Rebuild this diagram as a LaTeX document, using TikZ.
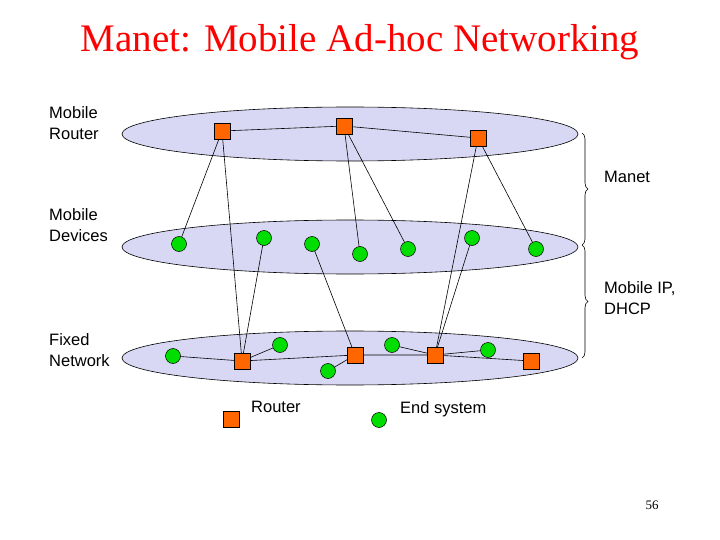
\documentclass[tikz,border=0pt]{standalone}
\usepackage{fontspec}
\setmainfont{Liberation Serif}
\newfontfamily\lsans{Liberation Sans}
\usetikzlibrary{decorations.pathreplacing}
\definecolor{rt}{HTML}{FF6600}
\definecolor{es}{HTML}{00DD00}
\definecolor{pl}{HTML}{D8D8F4}
\begin{document}
\begin{tikzpicture}[x=1pt,y=-1pt,
 rtr/.style={draw=black,fill=rt,minimum size=16pt,inner sep=0pt,line width=0.5pt},
 dev/.style={draw=black,fill=es,circle,minimum size=15pt,inner sep=0pt,line width=0.5pt},
 plane/.style={draw=black,fill=pl,line width=0.6pt},
 lbl/.style={font=\lsans\fontsize{16.5}{21.5}\selectfont,align=left,anchor=north west,inner sep=0pt},
 ln/.style={line width=0.6pt}]
\useasboundingbox (0,0) rectangle (720,540);
\node[text=red,font=\fontsize{39}{44}\selectfont] (title) at (360,42) {Manet: Mobile Ad-hoc Networking};
\draw[plane] (350,134) ellipse (228 and 27);
\draw[plane] (350,247) ellipse (228 and 27);
\draw[plane] (350,358) ellipse (228 and 27);
\node[lbl] (l1) at (49,106) {Mobile\\Router};
\node[lbl] (l2) at (49,208) {Mobile\\Devices};
\node[lbl] (l3) at (49,333) {Fixed\\Network};
\node[lbl] (l4) at (604,171) {Manet};
\node[lbl] (l5) at (604,281) {Mobile IP,\\DHCP};
\coordinate (b1) at (582,133); \coordinate (b2) at (582,245); \coordinate (b3) at (582,358);
\draw[line width=0.6pt,decorate,decoration={brace,amplitude=6pt}] (b1) -- (b2);
\draw[line width=0.6pt,decorate,decoration={brace,amplitude=6pt}] (b2) -- (b3);
% nodes
\coordinate (R1) at (222,131); \coordinate (R2) at (344,126); \coordinate (R3) at (478,138);
\coordinate (M1) at (179,244); \coordinate (M2) at (264,238); \coordinate (M3) at (312,244);
\coordinate (M4) at (360,254); \coordinate (M5) at (408,249); \coordinate (M6) at (472,238); \coordinate (M7) at (536,249);
\coordinate (G1) at (173,356); \coordinate (B1) at (242,361); \coordinate (G2) at (280,345);
\coordinate (G3) at (328,371); \coordinate (B2) at (355,355); \coordinate (G4) at (392,345);
\coordinate (B3) at (435,355); \coordinate (G5) at (488,350); \coordinate (B4) at (531,361);
\draw[ln] (R1)--(R2)--(R3);
\draw[ln] (R1)--(M1) (R1)--(B1) (R2)--(M4) (R2)--(M5) (R3)--(B3) (R3)--(M7);
\draw[ln] (M2)--(B1) (M3)--(B2) (M6)--(B3);
\draw[ln] (G1)--(B1)--(B2)--(B3)--(B4) (B1)--(G2) (G3)--(B2) (G4)--(B3)--(G5);
\foreach \n in {R1,R2,R3,B1,B2,B3,B4} \node[rtr] (n\n) at (\n) {};
\foreach \n in {M1,M2,M3,M4,M5,M6,M7,G1,G2,G3,G4,G5} \node[dev] (n\n) at (\n) {};
\node[rtr] (legr) at (231,419) {};
\node[lbl] (legrt) at (251,401) {Router};
\node[dev] (lege) at (379,420) {};
\node[lbl] (leget) at (400,401) {End system};
\node[font=\fontsize{13}{15}\selectfont] (pg) at (652,505) {56};
\end{tikzpicture}
\end{document}
